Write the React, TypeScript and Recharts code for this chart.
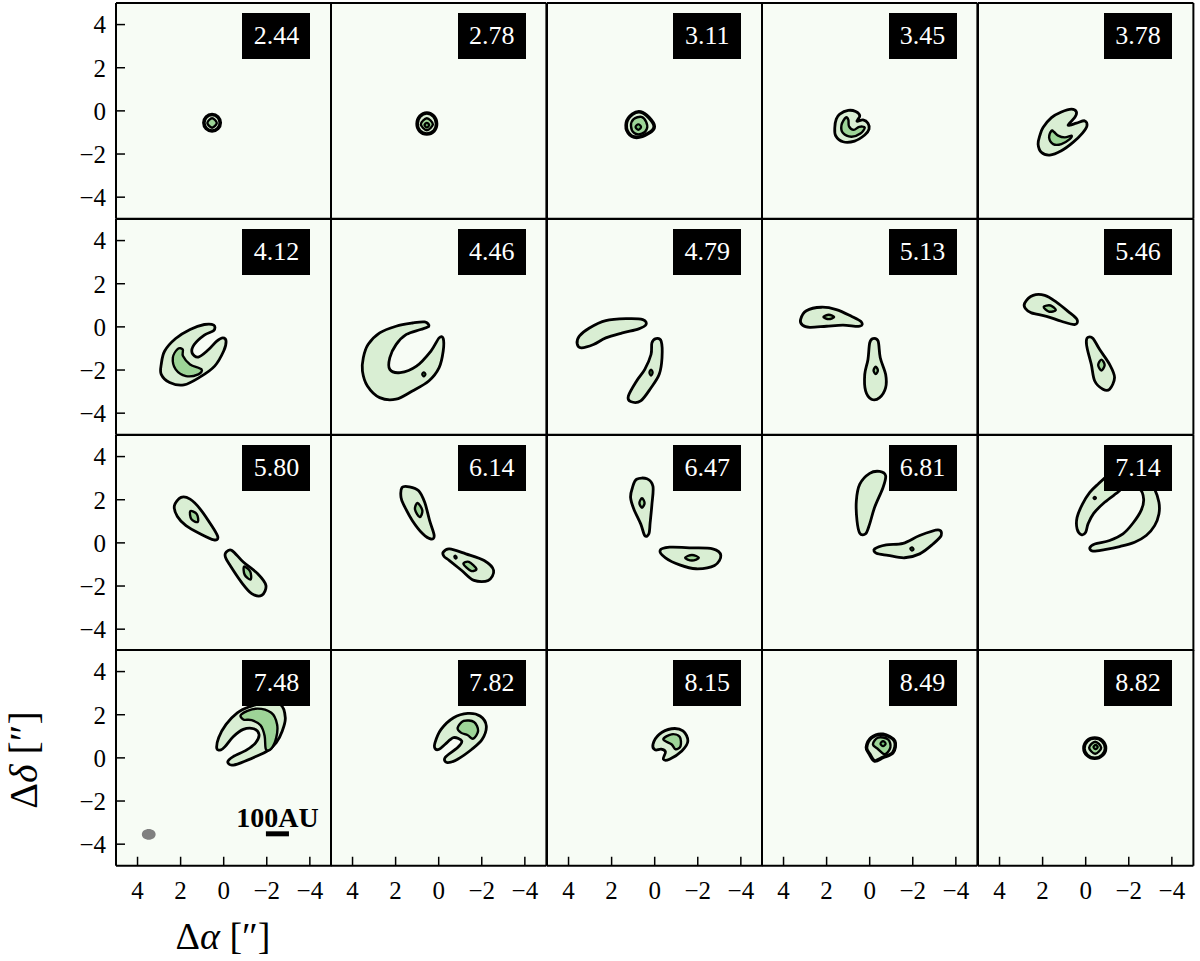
import React from "react"
import { CartesianGrid, ReferenceLine, Scatter, ScatterChart, XAxis, YAxis } from "recharts"

type Pt = [number, number]
type Contour = { level: number; pts: Pt[] }

// channel velocities (km/s), one per panel
const VELOCITIES = [
  "2.44", "2.78", "3.11", "3.45", "3.78",
  "4.12", "4.46", "4.79", "5.13", "5.46",
  "5.80", "6.14", "6.47", "6.81", "7.14",
  "7.48", "7.82", "8.15", "8.49", "8.82",
]
const TICKS = [-4, -2, 0, 2, 4]

// contour outlines per channel, [Δα, Δδ] in arcsec
const ch244: Contour[] = [
  { level: 0, pts: [[0.92, -0.55], [0.81, -0.28], [0.54, -0.17], [0.27, -0.28], [0.16, -0.55], [0.27, -0.82], [0.54, -0.93], [0.81, -0.82]] },
  { level: 1, pts: [[0.76, -0.56], [0.54, -0.34], [0.32, -0.56], [0.54, -0.78]] },
]
const ch278: Contour[] = [
  { level: 0, pts: [[1.0, -0.6], [0.87, -0.25], [0.55, -0.1], [0.23, -0.25], [0.1, -0.6], [0.22, -0.93], [0.55, -1.07], [0.88, -0.93]] },
  { level: 1, pts: [[0.83, -0.62], [0.55, -0.34], [0.27, -0.62], [0.55, -0.9]] },
  { level: 2, pts: [[0.66, -0.66], [0.55, -0.55], [0.44, -0.66], [0.55, -0.77]] },
]
const ch311: Contour[] = [
  { level: 0, pts: [[0.65, -0.05], [0.27, -0.31], [0.02, -0.72], [0.27, -1.03], [0.84, -1.23], [1.22, -1.03], [1.31, -0.54], [1.03, -0.15]] },
  { level: 1, pts: [[1.1, -0.7], [0.98, -0.38], [0.62, -0.28], [0.4, -0.5], [0.36, -0.82], [0.6, -1.06], [0.95, -1.03]] },
  { level: 2, pts: [[0.89, -0.75], [0.76, -0.62], [0.63, -0.75], [0.76, -0.88]] },
]
const ch345: Contour[] = [
  { level: 0, pts: [[1.39, -0.15], [1.0, 0.02], [0.65, -0.03], [0.46, -0.23], [0.59, -0.48], [0.31, -0.42], [0.08, -0.57], [0.03, -0.85], [0.23, -1.12], [0.7, -1.4], [1.24, -1.43], [1.58, -1.15], [1.62, -0.77], [1.55, -0.38]] },
  { level: 1, pts: [[1.11, -0.31], [1.31, -0.66], [1.24, -1.03], [0.85, -1.2], [0.43, -1.05], [0.23, -0.77], [0.49, -0.74], [0.74, -0.88], [0.96, -0.72], [0.99, -0.42]] },
]
const ch378: Contour[] = [
  { level: 0, pts: [[2.13, -1.15], [1.98, -0.77], [1.59, -0.31], [1.13, -0.05], [0.66, 0.08], [0.43, -0.05], [0.51, -0.31], [0.82, -0.66], [0.43, -0.57], [0.05, -0.46], [-0.06, -0.69], [0.15, -1.03], [0.59, -1.46], [1.13, -1.85], [1.67, -2.05], [2.06, -1.92], [2.21, -1.54]] },
  { level: 1, pts: [[1.59, -0.92], [1.7, -1.23], [1.51, -1.54], [1.13, -1.54], [0.74, -1.31], [0.66, -1.15], [0.97, -1.23], [1.28, -1.15], [1.48, -0.97]] },
]
const ch412: Contour[] = [
  { level: 0, pts: [[2.9, -1.74], [2.74, -1.12], [2.23, -0.54], [1.56, -0.12], [0.9, 0.11], [0.46, 0.08], [0.46, -0.17], [0.9, -0.38], [1.37, -0.82], [1.47, -1.2], [1.18, -1.4], [0.7, -1.05], [0.32, -0.66], [0.04, -0.51], [-0.11, -0.66], [0.0, -1.12], [0.42, -1.82], [1.09, -2.32], [1.85, -2.69], [2.51, -2.58], [2.9, -2.2]] },
  { level: 1, pts: [[2.13, -1.02], [2.36, -1.43], [2.23, -1.97], [1.75, -2.28], [1.18, -2.2], [1.03, -1.97], [1.56, -1.74], [1.89, -1.35], [1.9, -1.05]] },
]
const ch446: Contour[] = [
  { level: 0, pts: [[3.5, -1.43], [3.28, -0.82], [2.74, -0.28], [1.98, 0.03], [1.22, 0.18], [0.65, 0.23], [0.46, 0.03], [0.84, -0.12], [1.5, -0.35], [1.98, -0.82], [2.27, -1.43], [2.27, -1.97], [1.79, -2.12], [1.03, -1.82], [0.36, -1.12], [-0.02, -0.51], [-0.21, -0.54], [-0.21, -1.12], [-0.02, -1.89], [0.46, -2.51], [1.22, -2.97], [1.98, -3.35], [2.74, -3.28], [3.31, -2.74], [3.54, -2.05]] },
  { level: 3, pts: [[0.77, -2.2], [0.69, -2.1], [0.61, -2.2], [0.69, -2.3]] },
]
const ch479: Contour[] = [
  { level: 0, pts: [[3.6, -0.78], [3.5, -0.43], [3.03, -0.05], [2.27, 0.29], [1.31, 0.38], [0.55, 0.34], [0.4, 0.11], [0.74, -0.09], [1.5, -0.28], [2.27, -0.51], [2.84, -0.82], [3.41, -0.97]] },
  { level: 0, pts: [[-0.06, -0.54], [-0.3, -0.66], [-0.34, -1.43], [-0.21, -2.2], [0.17, -2.82], [0.65, -3.43], [1.12, -3.46], [1.22, -3.2], [0.84, -2.51], [0.46, -1.97], [0.17, -1.28], [0.13, -0.74]] },
  { level: 3, pts: [[0.25, -2.12], [0.17, -1.97], [0.09, -2.12], [0.17, -2.27]] },
]
const ch513: Contour[] = [
  { level: 0, pts: [[3.21, 0.34], [2.94, 0.75], [2.24, 0.91], [1.55, 0.8], [0.85, 0.49], [0.39, 0.23], [0.46, 0.03], [1.24, 0.08], [2.01, 0.03], [2.78, -0.02], [3.12, 0.08]] },
  { level: 1, pts: [[2.15, 0.46], [1.9, 0.56], [1.65, 0.46], [1.9, 0.36]] },
  { level: 0, pts: [[-0.15, -0.54], [-0.39, -0.66], [-0.49, -1.43], [-0.74, -2.2], [-0.74, -2.82], [-0.46, -3.28], [-0.08, -3.35], [0.19, -2.97], [0.23, -2.2], [0.08, -1.51], [0.0, -0.74]] },
  { level: 1, pts: [[-0.18, -2.02], [-0.28, -1.85], [-0.38, -2.02], [-0.28, -2.19]] },
]
const ch546: Contour[] = [
  { level: 0, pts: [[2.83, 1.11], [2.44, 1.46], [1.9, 1.46], [1.36, 1.15], [0.82, 0.72], [0.4, 0.34], [0.51, 0.11], [1.13, 0.26], [1.82, 0.49], [2.52, 0.65], [2.8, 0.85]] },
  { level: 1, pts: [[1.95, 0.93], [1.63, 0.99], [1.39, 0.77], [1.71, 0.71]] },
  { level: 0, pts: [[-0.11, -0.48], [-0.34, -0.54], [-0.65, -1.05], [-1.11, -1.74], [-1.34, -2.35], [-1.11, -2.89], [-0.8, -2.89], [-0.42, -2.51], [-0.26, -1.74], [-0.08, -1.05], [-0.03, -0.66]] },
  { level: 1, pts: [[-0.58, -1.77], [-0.73, -1.52], [-0.88, -1.77], [-0.73, -2.02]] },
]
const ch580: Contour[] = [
  { level: 0, pts: [[2.29, 1.72], [1.98, 2.11], [1.56, 2.03], [1.09, 1.57], [0.51, 0.72], [0.27, 0.26], [0.46, 0.14], [1.09, 0.42], [1.75, 0.8], [2.15, 1.22]] },
  { level: 1, pts: [[1.55, 1.47], [1.25, 1.33], [1.2, 0.97], [1.5, 1.1]] },
  { level: 0, pts: [[-0.11, -0.43], [-0.38, -0.35], [-0.91, -0.89], [-1.58, -1.43], [-1.96, -1.97], [-1.77, -2.43], [-1.3, -2.35], [-0.82, -1.82], [-0.3, -1.05], [-0.08, -0.66]] },
  { level: 1, pts: [[-0.95, -1.1], [-0.97, -1.47], [-1.25, -1.7], [-1.23, -1.33]] },
]
const ch614: Contour[] = [
  { level: 0, pts: [[1.7, 2.57], [1.37, 2.6], [0.93, 2.42], [0.65, 1.88], [0.42, 1.03], [0.21, 0.34], [0.36, 0.18], [0.74, 0.42], [1.22, 1.03], [1.6, 1.72], [1.75, 2.11]] },
  { level: 1, pts: [[1.1, 1.55], [0.98, 1.85], [0.76, 1.5], [0.88, 1.2]] },
  { level: 0, pts: [[-0.21, -0.43], [-0.5, -0.28], [-1.26, -0.51], [-2.11, -0.82], [-2.55, -1.28], [-2.3, -1.74], [-1.64, -1.74], [-1.07, -1.28], [-0.5, -0.82], [-0.25, -0.63]] },
  { level: 1, pts: [[-1.15, -0.98], [-1.4, -0.88], [-1.75, -1.2], [-1.5, -1.3]] },
  { level: 3, pts: [[-0.72, -0.63], [-0.78, -0.59], [-0.84, -0.69], [-0.78, -0.73]] },
]
const ch647: Contour[] = [
  { level: 0, pts: [[1.03, 2.57], [0.84, 2.95], [0.36, 2.97], [0.08, 2.62], [0.13, 1.77], [0.21, 0.95], [0.27, 0.42], [0.46, 0.34], [0.65, 0.88], [0.97, 1.57], [1.12, 2.11]] },
  { level: 1, pts: [[0.71, 1.85], [0.59, 2.07], [0.47, 1.85], [0.59, 1.63]] },
  { level: 0, pts: [[-0.25, -0.35], [-0.69, -0.2], [-1.73, -0.23], [-2.69, -0.28], [-3.07, -0.58], [-2.78, -1.05], [-1.92, -1.2], [-1.16, -1.02], [-0.5, -0.69]] },
  { level: 1, pts: [[-1.41, -0.69], [-1.73, -0.56], [-2.05, -0.69], [-1.73, -0.82]] },
]
const ch681: Contour[] = [
  { level: 0, pts: [[0.46, 2.72], [0.0, 3.22], [-0.46, 3.31], [-0.74, 3.11], [-0.62, 2.57], [-0.23, 1.65], [0.0, 0.88], [0.19, 0.42], [0.46, 0.45], [0.59, 1.03], [0.62, 1.95]] },
  { level: 0, pts: [[-0.23, -0.28], [-0.77, -0.09], [-1.55, -0.02], [-2.32, 0.34], [-3.17, 0.6], [-3.32, 0.34], [-2.94, -0.05], [-2.32, -0.51], [-1.62, -0.69], [-0.85, -0.58], [-0.31, -0.48]] },
  { level: 3, pts: [[-1.88, -0.27], [-1.96, -0.2], [-2.04, -0.29], [-1.96, -0.36]] },
]
const ch714: Contour[] = [
  { level: 0, pts: [[0.2, 0.38], [0.4, 0.65], [0.4, 1.18], [0.15, 1.8], [-0.19, 2.34], [-0.57, 2.72], [-1.04, 3.11], [-1.89, 3.42], [-2.81, 3.11], [-3.2, 2.49], [-3.4, 1.88], [-3.4, 1.34], [-3.2, 0.8], [-2.81, 0.34], [-2.27, 0.03], [-1.58, -0.17], [-0.88, -0.31], [-0.34, -0.38], [-0.19, -0.23], [-0.42, -0.05], [-1.11, 0.11], [-1.73, 0.42], [-2.19, 0.91], [-2.58, 1.52], [-2.69, 2.03], [-2.5, 2.49], [-1.81, 2.57], [-1.42, 2.29], [-0.88, 1.88], [-0.37, 1.37], [-0.11, 0.88], [0.0, 0.49]] },
  { level: 3, pts: [[-0.36, 2.08], [-0.42, 2.14], [-0.48, 2.08], [-0.42, 2.02]] },
]
const ch748: Contour[] = [
  { level: 0, pts: [[0.32, 0.43], [0.23, 0.94], [-0.11, 1.55], [-0.63, 2.09], [-1.2, 2.37], [-1.87, 2.55], [-2.63, 2.48], [-2.86, 1.86], [-2.72, 1.25], [-2.44, 0.71], [-2.02, 0.32], [-1.49, 0.06], [-0.82, -0.22], [-0.38, -0.34], [-0.19, -0.18], [-0.44, 0.06], [-1.07, 0.37], [-1.49, 0.71], [-1.64, 1.09], [-1.39, 1.35], [-0.91, 1.32], [-0.44, 0.98], [-0.06, 0.52], [0.13, 0.37]] },
  { level: 1, pts: [[-0.82, 2.02], [-1.49, 2.28], [-2.21, 2.09], [-2.48, 1.55], [-2.44, 0.94], [-2.21, 0.43], [-1.96, 0.4], [-1.9, 1.02], [-1.71, 1.51], [-1.3, 1.75], [-0.91, 1.78]] },
]
const ch782: Contour[] = [
  { level: 0, pts: [[0.17, 0.71], [-0.11, 1.32], [-0.69, 1.86], [-1.35, 2.06], [-1.92, 1.94], [-2.21, 1.48], [-2.02, 0.86], [-1.54, 0.4], [-0.88, -0.06], [-0.4, -0.22], [-0.3, 0.02], [-0.88, 0.48], [-1.07, 0.78], [-0.69, 0.94], [-0.3, 0.63], [-0.02, 0.4], [0.17, 0.43]] },
  { level: 1, pts: [[-0.88, 1.4], [-1.16, 1.71], [-1.64, 1.66], [-1.83, 1.25], [-1.6, 0.89], [-1.35, 1.05], [-1.03, 1.17]] },
]
const ch815: Contour[] = [
  { level: 0, pts: [[0.08, 0.63], [-0.21, 1.09], [-0.78, 1.35], [-1.31, 1.25], [-1.54, 0.78], [-1.26, 0.32], [-0.69, -0.06], [-0.4, -0.06], [-0.5, 0.28], [-0.3, 0.4], [-0.02, 0.37]] },
  { level: 1, pts: [[-0.4, 0.86], [-0.78, 1.09], [-1.16, 0.98], [-1.2, 0.55], [-0.97, 0.4], [-0.78, 0.63]] },
]
const ch849: Contour[] = [
  { level: 0, pts: [[0.15, 0.48], [-0.08, 0.94], [-0.62, 1.09], [-1.16, 0.78], [-1.08, 0.25], [-0.62, 0.02], [-0.23, -0.14], [0.0, 0.17]] },
  { level: 1, pts: [[-0.15, 0.63], [-0.39, 0.94], [-0.85, 0.86], [-0.96, 0.48], [-0.7, 0.17], [-0.39, 0.4]] },
  { level: 2, pts: [[-0.5, 0.66], [-0.62, 0.78], [-0.74, 0.66], [-0.62, 0.54]] },
]
const ch882: Contour[] = [
  { level: 0, pts: [[0.08, 0.45], [-0.07, 0.79], [-0.42, 0.92], [-0.77, 0.79], [-0.92, 0.45], [-0.77, 0.12], [-0.42, -0.02], [-0.07, 0.12]] },
  { level: 1, pts: [[-0.16, 0.47], [-0.44, 0.75], [-0.72, 0.47], [-0.44, 0.19]] },
  { level: 2, pts: [[-0.36, 0.5], [-0.46, 0.6], [-0.56, 0.5], [-0.46, 0.4]] },
]

const CHANNELS = [
  ch244, ch278, ch311, ch345, ch378,
  ch412, ch446, ch479, ch513, ch546,
  ch580, ch614, ch647, ch681, ch714,
  ch748, ch782, ch815, ch849, ch882,
]

// synthesized beam and 100 AU bar, drawn in the lower-left panel
const BEAM: Pt[] = [[3.8, -3.55], [3.71, -3.37], [3.48, -3.3], [3.25, -3.37], [3.16, -3.55], [3.25, -3.73], [3.48, -3.8], [3.71, -3.73]]
const SCALE_BAR: Pt[] = [[-1.96, -3.52], [-3.03, -3.52]]

const LEVEL_FILL = ["#d9eed3", "#9dd497", "#6fbf70", "#2f6f30"]
const LEVEL_WIDTH = [2.8, 2.4, 2.2, 2]

const PW = 215.4
const PH = 215.75
const X0 = 116
const Y0 = 3
// axes are 1px thick bands, so margins are 1px smaller than the outer gap
const M = { top: 19, right: 19, bottom: 49, left: 69 }
const SERIF = "'Liberation Serif', 'Times New Roman', serif"

const fmt = (v: number) => (v < 0 ? `\u2212${Math.abs(v)}` : `${v}`)

function closedPath(p: { x: number; y: number }[]) {
  const n = p.length
  let d = `M${p[0].x},${p[0].y}`
  for (let i = 0; i < n; i++) {
    const a = p[(i + n - 1) % n]
    const b = p[i]
    const c = p[(i + 1) % n]
    const e = p[(i + 2) % n]
    d += `C${b.x + (c.x - a.x) / 6},${b.y + (c.y - a.y) / 6} ${c.x - (e.x - b.x) / 6},${c.y - (e.y - b.y) / 6} ${c.x},${c.y}`
  }
  return d + "Z"
}

const axisLine = { stroke: "#000", strokeWidth: 2 }
const tickLine = { stroke: "#000", strokeWidth: 1.5 }
const tickText = { fill: "#000", fontSize: 25, fontFamily: SERIF }

function Panel({ idx }: { idx: number }) {
  const col = idx % 5
  const row = Math.floor(idx / 5)
  const contours = CHANNELS[idx]
  const tiny = idx <= 2 || idx >= 18
  return (
    <div style={{ position: "absolute", left: X0 + col * PW - 70, top: Y0 + row * PH - 20 }}>
      <ScatterChart width={PW + 90} height={PH + 70} margin={M}>
        <CartesianGrid horizontal={false} vertical={false} fill="#f7fcf5" stroke="none" />
        <XAxis
          xAxisId="b" type="number" dataKey="x" domain={[-5, 5]} reversed allowDataOverflow
          ticks={TICKS} interval={0} height={1} tickSize={-9} tickMargin={25}
          axisLine={axisLine} tickLine={tickLine} tickFormatter={fmt}
          tick={row === 3 ? tickText : false}
        />
        <XAxis
          xAxisId="t" orientation="top" type="number" dataKey="x" domain={[-5, 5]} reversed allowDataOverflow
          ticks={TICKS} interval={0} height={1} tickSize={-9} axisLine={axisLine} tickLine={tickLine} tick={false}
        />
        <YAxis
          yAxisId="l" type="number" dataKey="y" domain={[-5, 5]} allowDataOverflow
          ticks={TICKS} interval={0} width={1} tickSize={-9} tickMargin={19}
          axisLine={axisLine} tickLine={tickLine} tickFormatter={fmt}
          tick={col === 0 ? tickText : false}
        />
        <YAxis
          yAxisId="r" orientation="right" type="number" dataKey="y" domain={[-5, 5]} allowDataOverflow
          ticks={TICKS} interval={0} width={1} tickSize={-9} axisLine={axisLine} tickLine={tickLine} tick={false}
        />
        {contours.map((c, i) => (
          <Scatter
            key={i}
            xAxisId="b"
            yAxisId="l"
            data={c.pts.map(([x, y]) => ({ x, y }))}
            isAnimationActive={false}
            shape={() => <g />}
            line={(p: any) => (
              <path
                d={closedPath(p.points)}
                fill={LEVEL_FILL[c.level]}
                stroke="#000"
                strokeWidth={c.level === 0 && tiny ? 3.6 : LEVEL_WIDTH[c.level]}
                strokeLinejoin="round"
              />
            )}
          />
        ))}
        {idx === 15 && (
          <Scatter
            xAxisId="b"
            yAxisId="l"
            data={BEAM.map(([x, y]) => ({ x, y }))}
            isAnimationActive={false}
            shape={() => <g />}
            line={(p: any) => <path d={closedPath(p.points)} fill="#808080" stroke="none" />}
          />
        )}
        {idx === 15 && (
          <ReferenceLine
            xAxisId="b"
            yAxisId="l"
            segment={SCALE_BAR.map(([x, y]) => ({ x, y }))}
            stroke="#000"
            strokeWidth={5}
            ifOverflow="visible"
            label={{ value: "100AU", position: "top", offset: 7, fill: "#000", fontSize: 28, fontWeight: "bold", fontFamily: SERIF }}
          />
        )}
      </ScatterChart>
    </div>
  )
}

export default function App() {
  return (
    <div style={{ position: "absolute", left: 0, top: 0, width: 1200, height: 961, background: "#fff", overflow: "hidden" }}>
      {VELOCITIES.map((_, i) => (
        <Panel key={i} idx={i} />
      ))}
      {VELOCITIES.map((v, i) => {
        const col = i % 5
        const row = Math.floor(i / 5)
        return (
          <div
            key={v}
            style={{
              position: "absolute",
              left: X0 + (col + 1) * PW - 21 - 68,
              top: Y0 + row * PH + 10,
              width: 68,
              height: 46,
              background: "#000",
              color: "#fff",
              fontFamily: SERIF,
              fontSize: 26,
              display: "flex",
              alignItems: "center",
              justifyContent: "center",
            }}
          >
            {v}
          </div>
        )
      })}
      <div
        style={{
          position: "absolute",
          left: 24,
          top: 760,
          transform: "translate(-50%, -50%) rotate(-90deg)",
          fontFamily: SERIF,
          fontSize: 40,
          lineHeight: 1,
          whiteSpace: "nowrap",
          color: "#000",
        }}
      >
        Δ<i>δ</i> [″]
      </div>
      <div
        style={{
          position: "absolute",
          left: 223,
          top: 936,
          transform: "translate(-50%, -50%)",
          fontFamily: SERIF,
          fontSize: 38,
          lineHeight: 1,
          whiteSpace: "nowrap",
          color: "#000",
        }}
      >
        Δ<i>α</i> [″]
      </div>
    </div>
  )
}
